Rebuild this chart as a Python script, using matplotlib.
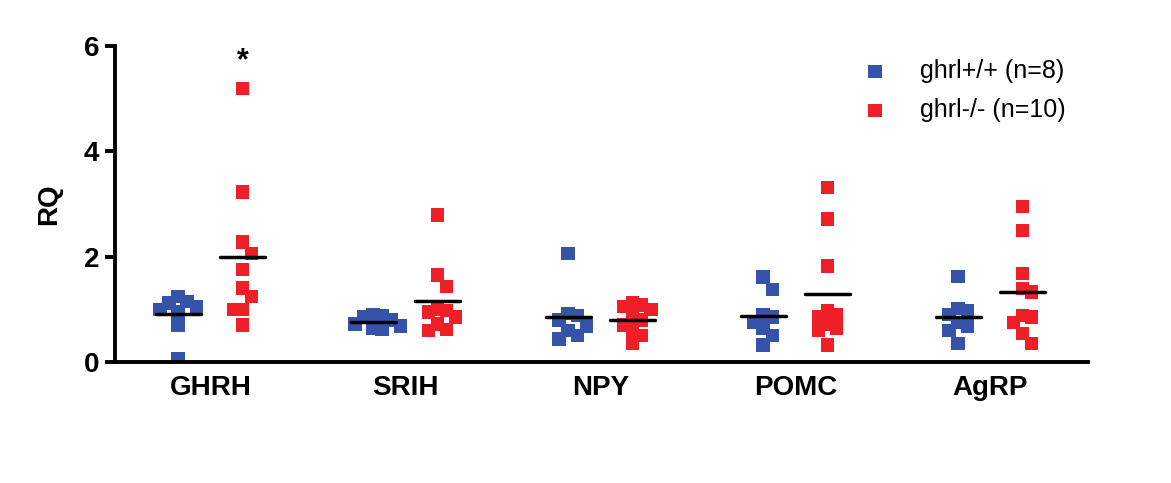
import numpy as np
from matplotlib import pyplot as plt

plt.rcParams['font.family'] = ['Liberation Sans', 'DejaVu Sans']

genes = ['GHRH', 'SRIH', 'NPY', 'POMC', 'AgRP']
wt_label = 'ghrl+/+ (n=8)'
ko_label = 'ghrl-/- (n=10)'

# RQ values
wt = [
    [1.24, 1.15, 1.12, 1.05, 1.00, 0.95, 0.70, 0.06],
    [0.90, 0.88, 0.85, 0.80, 0.72, 0.68, 0.65, 0.62],
    [2.06, 0.92, 0.88, 0.80, 0.68, 0.60, 0.50, 0.44],
    [1.61, 1.38, 0.90, 0.85, 0.75, 0.65, 0.50, 0.32],
    [1.62, 1.02, 0.98, 0.90, 0.75, 0.68, 0.60, 0.35],
]
ko = [
    [5.19, 3.23, 2.28, 2.06, 1.76, 1.41, 1.24, 1.00, 1.00, 0.70],
    [2.79, 1.65, 1.43, 1.00, 0.98, 0.95, 0.85, 0.72, 0.62, 0.60],
    [1.12, 1.08, 1.05, 1.00, 0.85, 0.80, 0.70, 0.60, 0.50, 0.35],
    [3.31, 2.72, 1.82, 0.98, 0.90, 0.85, 0.72, 0.65, 0.60, 0.32],
    [2.95, 2.50, 1.68, 1.40, 1.33, 0.88, 0.85, 0.75, 0.54, 0.35],
]
star_gene = 'GHRH'

blue = '#3553a8'
red = '#ee1f26'

fig = plt.figure(figsize=(11.71, 4.83), dpi=100)
ax = fig.add_axes([0.098, 0.2505, 0.831, 0.6543])
ax.set_xlim(-0.49, 4.5)
ax.set_ylim(0, 6)

# marker size in data units (approx 13 px)
mx = 13 / 194.75
my = 13 / 52.7


def swarm(vals, center):
    # simple beeswarm: nudge points sideways when they sit too close
    placed = []
    xs = []
    step = mx * 0.7
    ys = sorted(vals, reverse=True)
    for v in ys:
        k = 0
        while True:
            n = (k + 1) // 2
            x = center + n * step * (1 if k % 2 else -1)
            ok = all(abs(x - px) >= step * 0.99 or abs(v - py) >= my * 1.0
                     for px, py in placed)
            if ok:
                break
            k += 1
        placed.append((x, v))
        xs.append(x)
    return xs, ys


off = 0.165
for i, g in enumerate(genes):
    for vals, c, o, lab in [(wt[i], blue, -off, wt_label), (ko[i], red, off, ko_label)]:
        xs, ys = swarm(vals, i + o)
        ax.scatter(xs, ys, s=95, marker='s', color=c, edgecolors='none',
                   label=lab if i == 0 else None, zorder=2)
        m = np.mean(vals)
        ax.plot([i + o - 0.115, i + o + 0.115], [m, m], color='black', lw=2.5,
                solid_capstyle='round', zorder=3)
    if g == star_gene:
        ax.text(i + off, 5.42, '*', ha='center', va='bottom', fontsize=22,
                fontweight='bold')

for s in ['top', 'right']:
    ax.spines[s].set_visible(False)
for s in ['left', 'bottom']:
    ax.spines[s].set_linewidth(2.8)

ax.set_yticks([0, 2, 4, 6])
ax.tick_params(axis='y', width=2.8, length=7, labelsize=20, pad=4)
for t in ax.get_yticklabels():
    t.set_fontweight('bold')
ax.set_xticks(range(len(genes)))
ax.set_xticklabels(genes, fontsize=20, fontweight='bold')
ax.tick_params(axis='x', length=0, pad=9)
ax.set_ylabel('RQ', fontsize=20, fontweight='bold', labelpad=16)

ax.legend(loc='upper right', bbox_to_anchor=(1.0, 1.03), frameon=False,
          fontsize=18, handletextpad=0.8, labelspacing=0.6, markerscale=1.0)

fig.savefig('out.png', dpi=100)
